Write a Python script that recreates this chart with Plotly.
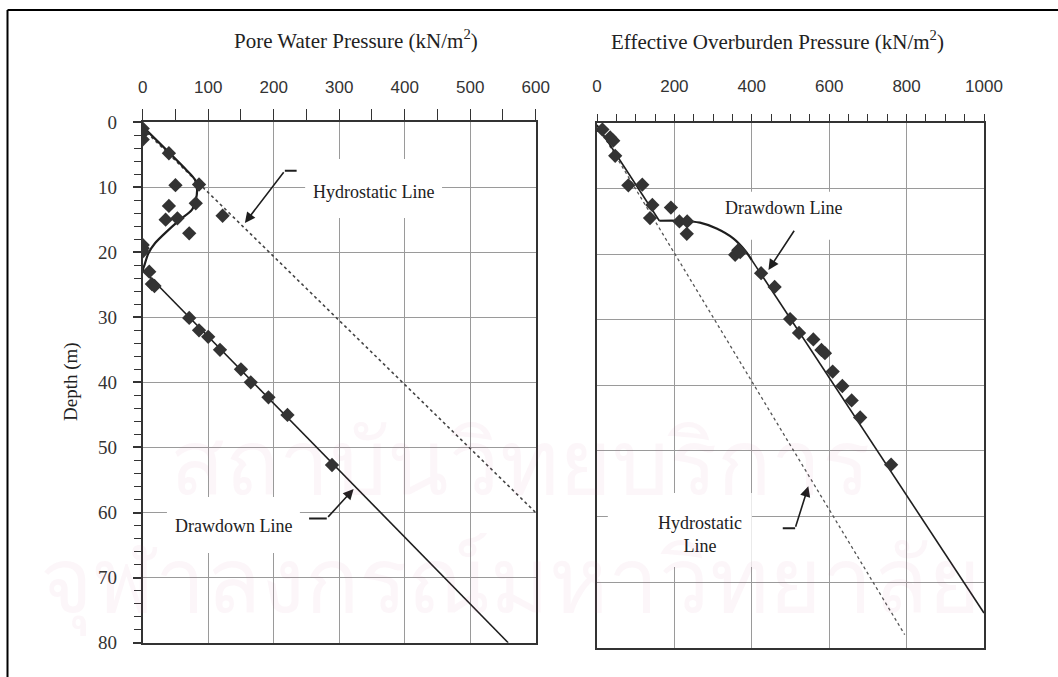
import plotly.graph_objects as go

# ---------------- data ----------------
# Pore water pressure profile (kN/m^2) vs depth (m)
pwp_pressure = [0, 0, 0, 40, 86, 50, 81, 40, 122, 35, 53, 71, 0, 0, 0, 10, 14, 18,
                71, 86, 100, 118, 150, 165, 192, 221, 289]
pwp_depth = [1.0, 1.7, 2.7, 4.8, 9.6, 9.7, 12.5, 12.9, 14.4, 15.0, 14.8, 17.1, 18.9, 19.4, 19.9,
             23.0, 24.9, 25.2, 30.1, 32.0, 33.0, 35.0, 38.0, 40.0, 42.3, 45.0, 52.7]

pwp_hydro_p = [0, 600]
pwp_hydro_d = [1.0, 60.0]

pwp_dd_curve_p = [0, 67, 80, 83, 81, 75, 57, 37, 19, 8.6, 2, 0]
pwp_dd_curve_d = [0.7, 7.4, 8.9, 10.4, 12.0, 13.5, 15.0, 16.8, 18.6, 20.2, 22.2, 22.7]
pwp_dd_line_p = [0, 558]
pwp_dd_line_d = [22.7, 80.0]

# Effective overburden pressure (kN/m^2) vs depth (m)
eff_pressure = [14, 34, 42, 47, 81, 117, 143, 191, 137, 213, 233, 232, 365, 357, 370, 424, 459,
                499, 522, 559, 580, 589, 609, 634, 658, 680, 760]
eff_depth = [1.0, 2.2, 2.7, 5.0, 9.5, 9.4, 12.5, 12.9, 14.5, 15.0, 15.0, 16.9, 19.4, 20.1, 19.7,
             22.9, 25.0, 29.9, 32.0, 33.0, 34.6, 35.1, 37.9, 40.1, 42.3, 44.9, 52.1]

eff_hydro_p = [0, 795]
eff_hydro_d = [0.3, 78.0]

eff_dd_upper_p = [0, 161]
eff_dd_upper_d = [0.3, 14.9]
eff_dd_curve_p = [161, 214, 266, 309, 352, 382, 400]
eff_dd_curve_d = [14.9, 14.9, 15.2, 16.1, 17.6, 19.4, 20.9]
eff_dd_lower_p = [400, 1000]
eff_dd_lower_d = [20.9, 74.7]

depth_ticks = [0, 10, 20, 30, 40, 50, 60, 70, 80]

# ---------------- figure ----------------
W, H = 1058, 677
SERIF = "Liberation Serif"
SANS = "Liberation Sans"
GRID = "#9a9a9a"


def px(xp):
    return xp / W


def py(yp):
    return 1 - yp / H


fig = go.Figure()

marker = dict(symbol="diamond", size=11, color="#333333", line=dict(width=0))

# left panel
fig.add_trace(go.Scatter(x=pwp_hydro_p, y=pwp_hydro_d, mode="lines",
                         line=dict(color="#444", width=1.6, dash="dot"), xaxis="x", yaxis="y"))
fig.add_trace(go.Scatter(x=pwp_dd_curve_p, y=pwp_dd_curve_d, mode="lines",
                         line=dict(color="#1e1e1e", width=2.2, shape="spline", smoothing=0.8),
                         xaxis="x", yaxis="y"))
fig.add_trace(go.Scatter(x=pwp_dd_line_p, y=pwp_dd_line_d, mode="lines",
                         line=dict(color="#1e1e1e", width=1.6), xaxis="x", yaxis="y"))
fig.add_trace(go.Scatter(x=pwp_pressure, y=pwp_depth, mode="markers", marker=marker,
                         xaxis="x", yaxis="y"))

# right panel
fig.add_trace(go.Scatter(x=eff_hydro_p, y=eff_hydro_d, mode="lines",
                         line=dict(color="#555", width=1.3, dash="dot"), xaxis="x2", yaxis="y2"))
fig.add_trace(go.Scatter(x=eff_dd_upper_p, y=eff_dd_upper_d, mode="lines",
                         line=dict(color="#1e1e1e", width=1.6), xaxis="x2", yaxis="y2"))
fig.add_trace(go.Scatter(x=eff_dd_curve_p, y=eff_dd_curve_d, mode="lines",
                         line=dict(color="#1e1e1e", width=2.2, shape="spline", smoothing=0.9),
                         xaxis="x2", yaxis="y2"))
fig.add_trace(go.Scatter(x=eff_dd_lower_p, y=eff_dd_lower_d, mode="lines",
                         line=dict(color="#1e1e1e", width=1.6), xaxis="x2", yaxis="y2"))
fig.add_trace(go.Scatter(x=eff_pressure, y=eff_depth, mode="markers", marker=marker,
                         xaxis="x2", yaxis="y2"))

axis_common = dict(showline=True, linecolor="#333", linewidth=1.6, mirror=True,
                   showgrid=True, gridcolor=GRID, gridwidth=1, zeroline=False,
                   automargin=False)

fig.update_layout(
    width=W, height=H,
    margin=dict(l=0, r=0, t=0, b=0, autoexpand=False),
    paper_bgcolor="white", plot_bgcolor="rgba(0,0,0,0)",
    showlegend=False,
    xaxis=dict(domain=[px(142.7), px(535.7)], range=[0, 600], side="top", anchor="y",
               tickmode="linear", tick0=0, dtick=100, ticks="outside", ticklen=11,
               tickcolor="#333", tickwidth=1.3,
               minor=dict(dtick=50, ticks="outside", ticklen=11, tickcolor="#333",
                          tickwidth=1.3, showgrid=False),
               ticklabelstandoff=9,
               tickfont=dict(family=SANS, size=17, color="#333"), **axis_common),
    yaxis=dict(domain=[py(642.7), py(122)], range=[80, 0], anchor="x",
               tickmode="array", tickvals=depth_ticks, ticks="outside", ticklen=8,
               tickcolor="#333", tickwidth=1.6,
               minor=dict(dtick=2, ticks="outside", ticklen=7, tickcolor="#333",
                          tickwidth=1.3, showgrid=False),
               ticklabelstandoff=12,
               tickfont=dict(family=SERIF, size=19, color="#333"), **axis_common),
    yaxis3=dict(overlaying="y", anchor="x", side="left", range=[80, 0],
                tickmode="array", tickvals=depth_ticks, ticks="inside", ticklen=9,
                tickcolor="#333", tickwidth=1.6, showticklabels=False,
                showgrid=False, zeroline=False, showline=False, automargin=False),
    xaxis2=dict(domain=[px(597), px(984)], range=[0, 1000], side="top", anchor="y2",
                tickmode="linear", tick0=0, dtick=200, ticks="outside", ticklen=7,
                tickcolor="#333", tickwidth=1.3,
                minor=dict(dtick=50, ticks="outside", ticklen=7, tickcolor="#333",
                           tickwidth=1.3, showgrid=False),
                ticklabelstandoff=15,
                tickfont=dict(family=SANS, size=17, color="#333"), **axis_common),
    yaxis2=dict(domain=[py(647.7), py(123)], range=[80, 0], anchor="x2",
                tickmode="array", tickvals=depth_ticks, ticks="", showticklabels=False,
                **axis_common),
)

# white panels behind the call-out labels (hide the grid there)
label_boxes = [
    ("x", "y", 248, 457, 5.7, 14.75),
    ("x", "y", 37, 240, 57.6, 66.2),
    ("x2", "y2", 313, 654, 10.5, 17.8),
    ("x2", "y2", 28, 400, 56.4, 67.7),
]
for xr, yr, x0, x1, y0, y1 in label_boxes:
    fig.add_shape(type="rect", xref=xr, yref=yr, x0=x0, x1=x1, y0=y0, y1=y1,
                  fillcolor="white", line=dict(width=0), layer="between")

# leader ticks of the call-outs
leaders = [
    ("x", "y", 217, 235, 7.5, 7.5),
    ("x", "y", 254, 281, 60.9, 60.9),
    ("x2", "y2", 480, 512, 61.8, 61.8),
]
for xr, yr, x0, x1, y0, y1 in leaders:
    fig.add_shape(type="line", xref=xr, yref=yr, x0=x0, x1=x1, y0=y0, y1=y1,
                  line=dict(color="#1e1e1e", width=2))

label_font = dict(family=SERIF, size=18, color="#222")

# call-out arrows
arrows = [
    ("x", "y", 156, 15.5, 217, 7.5),
    ("x", "y", 322, 56.4, 281, 60.9),
    ("x2", "y2", 443, 22.4, 512, 16.2),
    ("x2", "y2", 546, 55.4, 512, 61.8),
]
for xr, yr, xt, yt, xa, ya in arrows:
    fig.add_annotation(xref=xr, yref=yr, x=xt, y=yt, axref=xr, ayref=yr, ax=xa, ay=ya,
                       text="", showarrow=True, arrowhead=2, arrowsize=1.3,
                       arrowwidth=1.6, arrowcolor="#1e1e1e")

fig.add_annotation(xref="x", yref="y", x=353, y=10.75, text="Hydrostatic Line",
                   showarrow=False, font=label_font)
fig.add_annotation(xref="x", yref="y", x=138, y=62.1, text="Drawdown Line",
                   showarrow=False, font=label_font)
fig.add_annotation(xref="x2", yref="y2", x=481, y=12.96, text="Drawdown Line",
                   showarrow=False, font=label_font)
fig.add_annotation(xref="x2", yref="y2", x=266, y=62.8, text="Hydrostatic<br>Line",
                   showarrow=False, font=label_font)

# panel titles and depth label
title_font = dict(family=SERIF, size=21, color="#222")
fig.add_annotation(xref="paper", yref="paper", x=px(356), y=py(39),
                   text="Pore Water Pressure (kN/m<sup>2</sup>)", showarrow=False,
                   font=title_font, xanchor="center", yanchor="middle")
fig.add_annotation(xref="paper", yref="paper", x=px(777), y=py(40),
                   text="Effective Overburden Pressure (kN/m<sup>2</sup>)", showarrow=False,
                   font=title_font, xanchor="center", yanchor="middle")
fig.add_annotation(xref="paper", yref="paper", x=px(71), y=py(382), text="Depth (m)",
                   textangle=-90, showarrow=False,
                   font=dict(family=SERIF, size=19, color="#222"),
                   xanchor="center", yanchor="middle")

# faint library watermark
wm_font = dict(family="Noto Sans, DejaVu Sans", size=90, color="rgba(205,70,130,0.05)")
fig.add_annotation(xref="paper", yref="paper", x=px(520), y=py(522), text="สถาบันวิทยบริการ",
                   showarrow=False, font=wm_font)
fig.add_annotation(xref="paper", yref="paper", x=px(510), y=py(640),
                   text="จุฬาลงกรณ์มหาวิทยาลัย", showarrow=False, font=wm_font)

# outer frame
fig.add_shape(type="line", xref="paper", yref="paper", x0=px(7.5), x1=px(7.5), y0=0,
              y1=py(10), line=dict(color="black", width=2))
fig.add_shape(type="line", xref="paper", yref="paper", x0=px(7.5), x1=1, y0=py(10),
              y1=py(10), line=dict(color="black", width=2))

fig.write_html("out.html")
